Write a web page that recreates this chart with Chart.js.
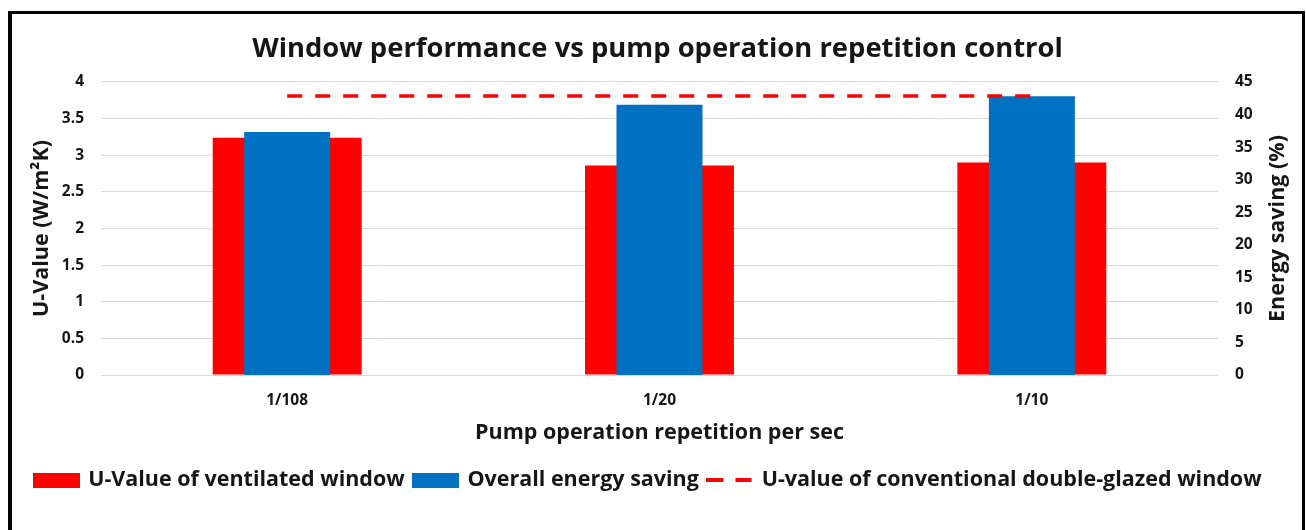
<!DOCTYPE html>
<html><head><meta charset="utf-8">
<script src="https://cdn.jsdelivr.net/npm/chart.js@4.4.1/dist/chart.umd.min.js"></script>
<style>
html,body{margin:0;padding:0;background:#fff;overflow:hidden}
#wrap{position:relative;width:1306px;height:530px}
#frame{position:absolute;left:8px;top:11px;width:1297px;height:530px;border-left:4px solid #000;border-top:3px solid #000;border-right:3px solid #000;box-sizing:border-box;pointer-events:none}
</style></head><body>
<div id="wrap"><canvas id="c" width="1306" height="530"></canvas><div id="frame"></div></div>
<script>
const categories = ['1/108', '1/20', '1/10'];
const uValueVentilated = [3.24, 2.86, 2.90];
const energySaving = [37.3, 41.5, 42.8];
const uValueConventional = [3.81, 3.81, 3.81];
const leftAxisRange = [0, 4, 0.5];
const rightAxisRange = [0, 45, 5];

const FONT = '"Open Sans"';
const TXT = '#161616';

function legendIcon(kind, color) {
  const cv = document.createElement('canvas');
  cv.width = 47; cv.height = kind === 'line' ? 4 : 15;
  const g = cv.getContext('2d');
  g.fillStyle = color;
  if (kind === 'line') { g.fillRect(0, 0, 17, 4); g.fillRect(29, 0, 16, 4); }
  else g.fillRect(0, 0, 47, 15);
  return cv;
}

const rightTitlePlugin = {
  id: 'rightTitle',
  afterDraw(chart) {
    const s = chart.scales.y1, a = chart.chartArea, ctx = chart.ctx;
    ctx.save();
    ctx.translate(s.left + 60, (a.top + a.bottom) / 2);
    ctx.rotate(-Math.PI / 2);
    ctx.font = 'bold 21.5px ' + FONT;
    ctx.fillStyle = TXT;
    ctx.textAlign = 'center';
    ctx.textBaseline = 'middle';
    ctx.fillText('Energy saving (%)', 0, 0);
    ctx.restore();
  }
};

const legendShiftPlugin = {
  id: 'legendShift',
  afterLayout(chart) {
    if (chart.legend) { chart.legend.left -= 9; chart.legend.right -= 9; }
  }
};

const tickFont = { family: FONT, size: 15.5, weight: 'bold' };
const titleFont = { family: FONT, size: 21.5, weight: 'bold' };

new Chart(document.getElementById('c'), {
  data: {
    labels: categories,
    datasets: [
      { type: 'bar', label: 'U-Value of ventilated window', data: uValueVentilated, yAxisID: 'y',
        backgroundColor: '#FF0000', grouped: false, barPercentage: 1, categoryPercentage: 0.4, order: 3,
        pointStyle: legendIcon('rect', '#FF0000') },
      { type: 'bar', label: 'Overall energy saving', data: energySaving, yAxisID: 'y1',
        backgroundColor: '#0070C0', grouped: false, barPercentage: 1, categoryPercentage: 0.231, order: 2,
        pointStyle: legendIcon('rect', '#0070C0') },
      { type: 'line', label: 'U-value of conventional double-glazed window', data: uValueConventional, yAxisID: 'y',
        borderColor: '#FF0000', backgroundColor: '#FF0000', borderWidth: 3.5, borderDash: [15, 13],
        pointRadius: 0, fill: false, order: 1, pointStyle: legendIcon('line', '#FF0000') }
    ]
  },
  options: {
    responsive: false, animation: false, devicePixelRatio: 1,
    layout: { padding: { left: 9, right: 0, top: 0, bottom: 29 } },
    plugins: {
      tooltip: { enabled: false },
      title: { display: true, text: 'Window performance vs pump operation repetition control',
        font: { family: FONT, size: 27.4, weight: 'bold' }, color: TXT, padding: { top: 32.6, bottom: 16.5 } },
      legend: { position: 'bottom',
        labels: { usePointStyle: true, pointStyleWidth: 42, boxHeight: 15, padding: 10,
          font: { family: FONT, size: 21.5, weight: 'bold' }, color: TXT,
          sort: (a, b) => a.datasetIndex - b.datasetIndex } }
    },
    scales: {
      x: { offset: true, grid: { display: false, drawTicks: false }, border: { display: false },
        ticks: { padding: 16, color: TXT, font: tickFont },
        title: { display: true, text: 'Pump operation repetition per sec', color: TXT,
          font: titleFont, padding: { top: 0, bottom: 13.6 } },
        afterFit: s => { s.height = 84.5; } },
      y: { position: 'left', min: leftAxisRange[0], max: leftAxisRange[1],
        grid: { color: '#d9d9d9', lineWidth: 1, drawTicks: false }, border: { display: false },
        ticks: { stepSize: leftAxisRange[2], padding: 17, color: TXT, font: tickFont, callback: v => String(v) },
        title: { display: true, text: 'U-Value (W/m²K)', color: TXT,
          font: titleFont, padding: { top: 20, bottom: 0 } },
        afterFit: s => { s.width = 92; } },
      y1: { position: 'right', min: rightAxisRange[0], max: rightAxisRange[1],
        grid: { display: false, drawTicks: false }, border: { display: false },
        ticks: { stepSize: rightAxisRange[2], padding: 17, color: TXT, font: tickFont, callback: v => String(v) },
        afterFit: s => { s.width = 88; } }
    }
  },
  plugins: [rightTitlePlugin, legendShiftPlugin]
});
</script>
</body></html>
